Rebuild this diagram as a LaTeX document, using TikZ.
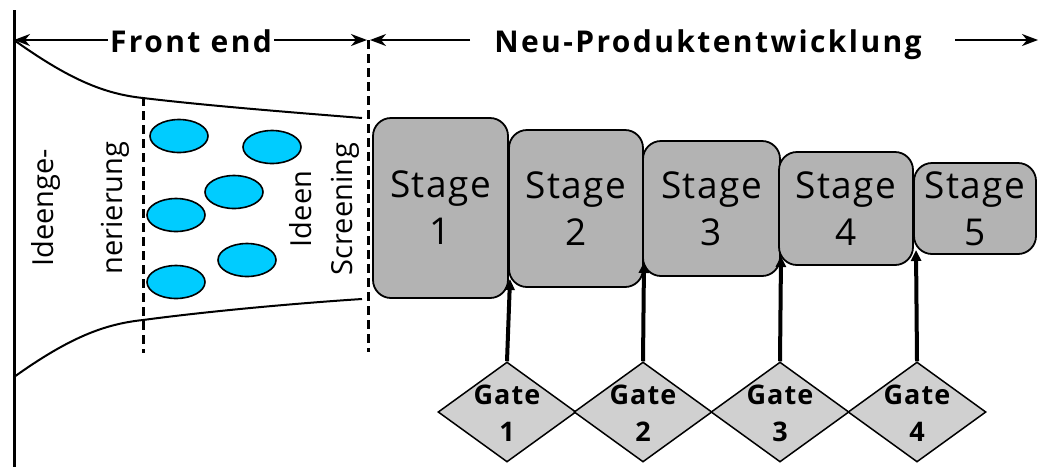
\documentclass[tikz,border=0pt]{standalone}
\usepackage{fontspec}
\setmainfont{Open Sans}
\usetikzlibrary{shapes.geometric,arrows.meta}

\definecolor{stagegray}{RGB}{179,179,179}
\definecolor{gategray}{RGB}{208,208,208}
\definecolor{ideablue}{RGB}{0,204,255}

\newcommand{\stagefnt}{\fontsize{37}{47}\selectfont\addfontfeature{LetterSpace=4}}
\newcommand{\gatefnt}{\fontsize{27}{37}\selectfont\bfseries\addfontfeature{LetterSpace=4}}
\newcommand{\topfnt}{\fontsize{30}{36}\selectfont\bfseries\addfontfeature{LetterSpace=8}}
\newcommand{\sidefnt}{\fontsize{29}{69}\selectfont}

\tikzset{
  stagebox/.style={draw, line width=1.8pt, fill=stagegray, rounded corners=18pt,
    align=center, font=\stagefnt, inner sep=0pt},
  gatebox/.style={draw, diamond, fill=gategray, line width=1.5pt, inner sep=0pt,
    minimum width=138pt, minimum height=100pt},
  gatelabel/.style={align=center, font=\gatefnt, inner sep=0pt},
  idea/.style={draw, ellipse, fill=ideablue, line width=1.6pt,
    minimum width=58pt, minimum height=33pt, inner sep=0pt},
  toplabel/.style={font=\topfnt, inner sep=2pt, anchor=base},
  toparrow/.style={line width=1.8pt, -{Stealth[length=16pt,width=12pt,inset=5pt]}},
  gatearrow/.style={line width=4pt, -{Triangle[length=11pt,width=10pt]}},
  phase/.style={line width=3pt, dash pattern=on 9pt off 5pt},
}

\begin{document}
\begin{tikzpicture}[x=1pt, y=-1pt]
    \useasboundingbox (0,0) rectangle (1040,467);

    % Left border
    \draw[line width=3pt] (14,10) -- (14,467);

    % Phase headings
    \node[toplabel] (fe) at (191,52) {Front end};
    \node[toplabel] (npe) at (708,52) {Neu-Produktentwicklung};
    \coordinate (feL) at (14,40);
    \coordinate (feR) at (367,40);
    \coordinate (npL) at (370,40);
    \coordinate (npA) at (470,40);
    \coordinate (npB) at (955,40);
    \coordinate (npR) at (1038,40);
    \draw[toparrow] (fe.west |- feL) -- (feL);
    \draw[toparrow] (fe.east |- feR) -- (feR);
    \draw[toparrow] (npA) -- (npL);
    \draw[toparrow] (npB) -- (npR);

    % Funnel
    \draw[line width=2pt] (14,40) .. controls (70,80) and (105,94) .. (143,98)
        .. controls (210,106) and (300,113) .. (362,118);
    \draw[line width=2pt] (14,377) .. controls (70,337) and (105,324) .. (143,320)
        .. controls (210,311) and (300,303) .. (362,299);

    % Dashed phase borders
    \draw[phase] (143,97) -- (143,353);
    \draw[phase] (368,40) -- (368,352);

    % Rotated labels
    \node[rotate=90, align=center, font=\sidefnt, inner sep=0pt] (ideagen) at (80,208) {Ideenge-\\nerierung};
    \node[rotate=90, align=center, font=\fontsize{29}{41}\selectfont, inner sep=0pt] (screen) at (324,209) {Ideen\\Screening};

    % Ideas
    \node[idea] (i1) at (179,136) {};
    \node[idea] (i2) at (272,147) {};
    \node[idea] (i3) at (234,192) {};
    \node[idea] (i4) at (176,215) {};
    \node[idea] (i5) at (247,260) {};
    \node[idea] (i6) at (176,282) {};

    % Stages
    \node[stagebox, minimum width=135pt, minimum height=180pt] (s1) at (440.5,208) {Stage\\1};
    \node[stagebox, minimum width=134pt, minimum height=157pt] (s2) at (576,208.5) {Stage\\2};
    \node[stagebox, minimum width=137pt, minimum height=135pt] (s3) at (711.5,208.5) {Stage\\3};
    \node[stagebox, minimum width=134pt, minimum height=113pt] (s4) at (846,208.5) {Stage\\4};
    \node[stagebox, minimum width=122pt, minimum height=91pt] (s5) at (975,208.5) {Stage\\5};

    % Gates
    \foreach \gx [count=\n] in {507,643,780,917} {
        \node[gatebox] (g\n) at (\gx,412) {};
        \node[gatelabel] (g\n t) at (\gx,413) {Gate\\\n};
    }
    \coordinate (t1) at (510,279);
    \coordinate (t2) at (644,262);
    \coordinate (t3) at (781,256);
    \coordinate (t4) at (916,250);
    \draw[gatearrow] (g1.north) -- (t1);
    \draw[gatearrow] (g2.north) -- (t2);
    \draw[gatearrow] (g3.north) -- (t3);
    \draw[gatearrow] (g4.north) -- (t4);
\end{tikzpicture}
\end{document}
